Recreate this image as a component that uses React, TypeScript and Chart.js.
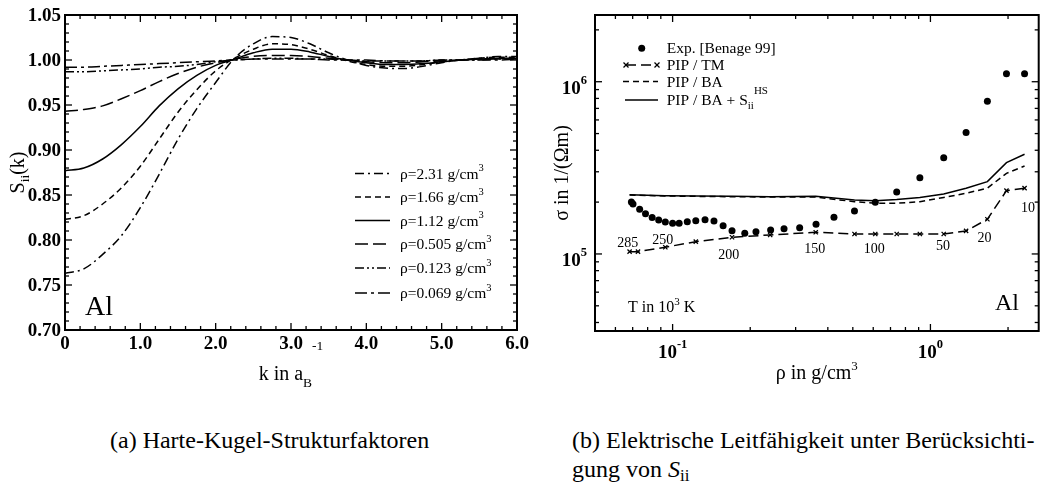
import React, { useEffect, useRef } from 'react';
import { Chart, registerables } from 'chart.js';

Chart.register(...registerables);

const SERIF = '"Liberation Serif", "Times New Roman", Times, serif';

// ---------------- Panel (a): hard-sphere structure factors ----------------
const kValues = [0, 0.25, 0.5, 0.75, 1.0, 1.25, 1.5, 1.75, 2.0, 2.25, 2.5, 2.75, 3.0, 3.25, 3.5, 3.75, 4.0, 4.25, 4.5, 4.75, 5.0, 5.25, 5.5, 5.75, 6.0];
const sRho231 = [0.763, 0.768, 0.784, 0.805, 0.836, 0.873, 0.912, 0.946, 0.975, 1.002, 1.018, 1.026, 1.025, 1.018, 1.008, 1.000, 0.994, 0.991, 0.9905, 0.993, 0.997, 1.000, 1.002, 1.004, 1.004];
const sRho166 = [0.823, 0.827, 0.840, 0.858, 0.882, 0.912, 0.942, 0.967, 0.988, 1.002, 1.012, 1.018, 1.017, 1.012, 1.005, 0.999, 0.995, 0.993, 0.993, 0.995, 0.998, 1.000, 1.002, 1.003, 1.003];
const sRho112 = [0.877, 0.880, 0.890, 0.906, 0.926, 0.949, 0.968, 0.983, 0.994, 1.001, 1.008, 1.012, 1.012, 1.009, 1.004, 1.000, 0.997, 0.995, 0.995, 0.996, 0.998, 1.000, 1.001, 1.002, 1.002];
const sRho0505 = [0.943, 0.945, 0.949, 0.957, 0.966, 0.976, 0.985, 0.992, 0.997, 1.001, 1.004, 1.005, 1.005, 1.004, 1.002, 1.000, 0.998, 0.997, 0.997, 0.998, 0.999, 1.000, 1.001, 1.001, 1.001];
const sRho0123 = [0.987, 0.987, 0.988, 0.989, 0.990, 0.992, 0.993, 0.995, 0.998, 1.000, 1.001, 1.002, 1.002, 1.001, 1.001, 1.000, 0.999, 0.999, 0.999, 0.999, 1.000, 1.000, 1.000, 1.001, 1.001];
const sRho0069 = [0.992, 0.992, 0.993, 0.994, 0.995, 0.996, 0.997, 0.998, 0.999, 1.000, 1.001, 1.001, 1.001, 1.001, 1.000, 1.000, 1.000, 0.999, 0.999, 0.999, 1.000, 1.000, 1.000, 1.000, 1.001];
const densityLabels = ['2.31', '1.66', '1.12', '0.505', '0.123', '0.069'];
const leftXTickValues = [0, 1, 2, 3, 4, 5, 6];
const leftXTickLabels = ['0', '1.0', '2.0', '3.0', '4.0', '5.0', '6.0'];
const leftYTickValues = [0.7, 0.75, 0.8, 0.85, 0.9, 0.95, 1.0, 1.05];
const leftYTickLabels = ['0.70', '0.75', '0.80', '0.85', '0.90', '0.95', '1.00', '1.05'];

// ---------------- Panel (b): electrical conductivity ----------------
const expRho = [0.0692, 0.0702, 0.0745, 0.0785, 0.0833, 0.0883, 0.0937, 0.100, 0.106, 0.114, 0.123, 0.1336, 0.1447, 0.157, 0.170, 0.1905, 0.2105, 0.240, 0.2705, 0.311, 0.360, 0.4225, 0.5075, 0.611, 0.740, 0.910, 1.126, 1.375, 1.663, 1.972, 2.318];
const expSigma = [2.0e5, 1.95e5, 1.82e5, 1.71e5, 1.63e5, 1.575e5, 1.535e5, 1.51e5, 1.51e5, 1.54e5, 1.56e5, 1.58e5, 1.553e5, 1.46e5, 1.365e5, 1.32e5, 1.347e5, 1.377e5, 1.40e5, 1.42e5, 1.487e5, 1.633e5, 1.777e5, 1.995e5, 2.29e5, 2.77e5, 3.62e5, 5.08e5, 7.69e5, 1.113e6, 1.113e6];
const theoryRho = [0.0681, 0.0734, 0.0937, 0.123, 0.170, 0.239, 0.359, 0.5075, 0.611, 0.740, 0.910, 1.126, 1.375, 1.663, 1.972, 2.318];
const sigmaPipTM = [1.031e5, 1.031e5, 1.094e5, 1.179e5, 1.25e5, 1.289e5, 1.336e5, 1.306e5, 1.306e5, 1.306e5, 1.306e5, 1.306e5, 1.36e5, 1.59e5, 2.33e5, 2.41e5];
const sigmaPipBA = [2.20e5, 2.19e5, 2.17e5, 2.16e5, 2.15e5, 2.14e5, 2.14e5, 2.01e5, 1.97e5, 1.97e5, 2.01e5, 2.13e5, 2.25e5, 2.41e5, 2.94e5, 3.24e5];
const sigmaPipBASii = [2.21e5, 2.20e5, 2.18e5, 2.17e5, 2.16e5, 2.15e5, 2.16e5, 2.06e5, 2.04e5, 2.07e5, 2.13e5, 2.23e5, 2.41e5, 2.63e5, 3.39e5, 3.79e5];
const tempLabels = ['285', '250', '200', '150', '100', '50', '20', '10'];
const tempLabelRho = [0.0670, 0.0915, 0.165, 0.356, 0.606, 1.119, 1.619, 2.39];
const tempLabelSigma = [1.174e5, 1.222e5, 0.996e5, 1.079e5, 1.079e5, 1.117e5, 1.25e5, 1.858e5];
const rightXTickValues = [0.1, 1];
const rightXTickExp = ['-1', '0'];
const rightYTickValues = [1e5, 1e6];
const rightYTickExp = ['5', '6'];

// ---------------- text helpers ----------------
type Part = { t: string; size: number; bold?: boolean; italic?: boolean; dy?: number };
const fontOf = (p: Part) => `${p.italic ? 'italic ' : ''}${p.bold ? 'bold ' : ''}${p.size}px ${SERIF}`;
function partsWidth(ctx: CanvasRenderingContext2D, parts: Part[]) {
  let w = 0;
  for (const p of parts) { ctx.font = fontOf(p); w += ctx.measureText(p.t).width; }
  return w;
}
function drawParts(ctx: CanvasRenderingContext2D, x: number, y: number, parts: Part[], align: 'left' | 'center' | 'right' = 'left') {
  ctx.save();
  const w = partsWidth(ctx, parts);
  const x0 = align === 'center' ? x - w / 2 : align === 'right' ? x - w : x;
  ctx.textAlign = 'left';
  ctx.textBaseline = 'alphabetic';
  ctx.fillStyle = '#000';
  let cx = x0;
  for (const p of parts) { ctx.font = fontOf(p); ctx.fillText(p.t, cx, y + (p.dy || 0)); cx += ctx.measureText(p.t).width; }
  ctx.restore();
}
function drawPartsRotated(ctx: CanvasRenderingContext2D, bx: number, cy: number, parts: Part[]) {
  ctx.save();
  ctx.translate(bx, cy);
  ctx.rotate(-Math.PI / 2);
  const w = partsWidth(ctx, parts);
  ctx.textAlign = 'left';
  ctx.textBaseline = 'alphabetic';
  ctx.fillStyle = '#000';
  let cx = -w / 2;
  for (const p of parts) { ctx.font = fontOf(p); ctx.fillText(p.t, cx, p.dy || 0); cx += ctx.measureText(p.t).width; }
  ctx.restore();
}
function seg(ctx: CanvasRenderingContext2D, x1: number, y1: number, x2: number, y2: number) {
  ctx.beginPath(); ctx.moveTo(x1, y1); ctx.lineTo(x2, y2); ctx.stroke();
}

const leftDashes = [[9, 4, 2, 4], [6, 4], [], [13, 5], [9, 3, 2, 3, 2, 3], [12, 4, 3, 4]];

const leftDecor = {
  id: 'leftDecor',
  afterDraw(chart: any) {
    const ctx: CanvasRenderingContext2D = chart.ctx;
    const a = chart.chartArea;
    const xs = chart.scales.x, ys = chart.scales.y;
    ctx.save();
    ctx.strokeStyle = '#000';
    ctx.fillStyle = '#000';
    ctx.lineWidth = 1.3;
    for (let i = 0; i <= 30; i++) {
      const px = xs.getPixelForValue(i * 0.2);
      const len = i % 5 === 0 ? 7 : 4;
      seg(ctx, px, a.bottom, px, a.bottom - len);
      seg(ctx, px, a.top, px, a.top + len);
    }
    for (let i = 0; i <= 35; i++) {
      const py = ys.getPixelForValue(0.7 + i * 0.01);
      const len = i % 5 === 0 ? 7 : 4;
      seg(ctx, a.left, py, a.left + len, py);
      seg(ctx, a.right, py, a.right - len, py);
    }
    ctx.lineWidth = 2;
    ctx.strokeRect(a.left, a.top, a.right - a.left, a.bottom - a.top);

    leftYTickValues.forEach((v, i) => {
      drawParts(ctx, a.left - 4, ys.getPixelForValue(v) + 6.4, [{ t: leftYTickLabels[i], size: 19, bold: true }], 'right');
    });
    leftXTickValues.forEach((v, i) => {
      drawParts(ctx, xs.getPixelForValue(v), 348.5, [{ t: leftXTickLabels[i], size: 19, bold: true }], 'center');
    });
    drawParts(ctx, (a.left + a.right) / 2, 380, [
      { t: 'k in a', size: 20 },
      { t: 'B', size: 13.5, dy: 7 },
      { t: '-1', size: 13.5, dy: -30 },
    ], 'center');
    drawPartsRotated(ctx, 24, (a.top + a.bottom) / 2, [
      { t: 'S', size: 20 },
      { t: 'ii', size: 13.5, dy: 5 },
      { t: '(k)', size: 20 },
    ]);
    drawParts(ctx, 85, 315, [{ t: 'Al', size: 28 }]);

    // legend
    const rows = [173.5, 197, 220.5, 244, 268, 293];
    densityLabels.forEach((lab, i) => {
      const y = rows[i];
      ctx.lineWidth = 1.5;
      ctx.setLineDash(leftDashes[i]);
      seg(ctx, 355, y, 390, y);
      ctx.setLineDash([]);
      drawParts(ctx, 400, y + 5, [
        { t: `ρ=${lab} g/cm`, size: 15.5 },
        { t: '3', size: 10.5, dy: -7.5 },
      ]);
    });
    ctx.restore();
  },
};

const rightDecor = {
  id: 'rightDecor',
  afterDraw(chart: any) {
    const ctx: CanvasRenderingContext2D = chart.ctx;
    const a = chart.chartArea;
    const xs = chart.scales.x, ys = chart.scales.y;
    ctx.save();
    ctx.strokeStyle = '#000';
    ctx.fillStyle = '#000';
    ctx.lineWidth = 1.3;
    for (let d = -2; d <= 0; d++) {
      for (let m = 1; m <= 9; m++) {
        const v = m * Math.pow(10, d);
        if (v < xs.min * 0.999 || v > xs.max * 1.001) continue;
        const px = xs.getPixelForValue(v);
        const len = m === 1 ? 7 : 4;
        seg(ctx, px, a.bottom, px, a.bottom - len);
        seg(ctx, px, a.top, px, a.top + len);
      }
    }
    for (let d = 4; d <= 6; d++) {
      for (let m = 1; m <= 9; m++) {
        const v = m * Math.pow(10, d);
        if (v < ys.min * 0.999 || v > ys.max * 1.001) continue;
        const py = ys.getPixelForValue(v);
        const len = m === 1 ? 7 : 4;
        seg(ctx, a.left, py, a.left + len, py);
        seg(ctx, a.right, py, a.right - len, py);
      }
    }
    ctx.lineWidth = 2;
    ctx.strokeRect(a.left, a.top, a.right - a.left, a.bottom - a.top);

    rightYTickValues.forEach((v, i) => {
      drawParts(ctx, a.left - 8, ys.getPixelForValue(v) + 12, [
        { t: '10', size: 19, bold: true },
        { t: rightYTickExp[i], size: 12.5, bold: true, dy: -9.5 },
      ], 'right');
    });
    rightXTickValues.forEach((v, i) => {
      drawParts(ctx, xs.getPixelForValue(v), 358, [
        { t: '10', size: 19, bold: true },
        { t: rightXTickExp[i], size: 12.5, bold: true, dy: -10.5 },
      ], 'center');
    });
    drawParts(ctx, (a.left + a.right) / 2, 379, [
      { t: 'ρ in g/cm', size: 20 },
      { t: '3', size: 13, dy: -9.5 },
    ], 'center');
    drawPartsRotated(ctx, 568, (a.top + a.bottom) / 2, [{ t: 'σ in 1/(Ωm)', size: 20 }]);
    drawParts(ctx, 995, 310, [{ t: 'Al', size: 24 }]);
    drawParts(ctx, 628, 312, [
      { t: 'T in 10', size: 16 },
      { t: '3', size: 11, dy: -7.5 },
      { t: ' K', size: 16 },
    ]);
    tempLabels.forEach((t, i) => {
      drawParts(ctx, xs.getPixelForValue(tempLabelRho[i]), ys.getPixelForValue(tempLabelSigma[i]) + 4.8, [{ t, size: 14 }], 'center');
    });

    // legend
    ctx.beginPath();
    ctx.arc(641.7, 48.3, 3.5, 0, Math.PI * 2);
    ctx.fill();
    drawParts(ctx, 666.7, 53, [{ t: 'Exp. [Benage 99]', size: 15.5 }]);
    ctx.lineWidth = 1.5;
    ctx.setLineDash([10, 5]);
    seg(ctx, 626, 65, 657, 65);
    ctx.setLineDash([]);
    ctx.lineWidth = 1.3;
    for (const cx of [626, 657]) {
      seg(ctx, cx - 2.5, 62.5, cx + 2.5, 67.5);
      seg(ctx, cx - 2.5, 67.5, cx + 2.5, 62.5);
    }
    drawParts(ctx, 666.7, 70, [{ t: 'PIP / TM', size: 15.5 }]);
    ctx.lineWidth = 1.5;
    ctx.setLineDash([6, 4]);
    seg(ctx, 623, 81.5, 658, 81.5);
    ctx.setLineDash([]);
    drawParts(ctx, 666.7, 86.5, [{ t: 'PIP / BA', size: 15.5 }]);
    seg(ctx, 625, 100, 658, 100);
    drawParts(ctx, 666.7, 105, [
      { t: 'PIP / BA + S', size: 15.5 },
      { t: 'ii', size: 11, dy: 4 },
      { t: 'HS', size: 11, dy: -11 },
    ]);
    ctx.restore();
  },
};

export default function App() {
  const leftRef = useRef<HTMLCanvasElement | null>(null);
  const rightRef = useRef<HTMLCanvasElement | null>(null);

  useEffect(() => {
    if (!leftRef.current || !rightRef.current) return;
    const leftSeries = [sRho231, sRho166, sRho112, sRho0505, sRho0123, sRho0069];
    const left = new Chart(leftRef.current, {
      type: 'line',
      data: {
        datasets: leftSeries.map((s, i) => ({
          label: `ρ=${densityLabels[i]} g/cm³`,
          data: kValues.map((k, j) => ({ x: k, y: s[j] })),
          borderColor: '#000',
          borderWidth: 1.5,
          borderDash: leftDashes[i],
          pointRadius: 0,
          fill: false,
          cubicInterpolationMode: 'monotone' as const,
        })),
      },
      options: {
        responsive: false,
        animation: false,
        devicePixelRatio: 1,
        events: [],
        layout: { padding: { left: 65, right: 527, top: 15, bottom: 70 } },
        plugins: { legend: { display: false }, tooltip: { enabled: false } },
        scales: {
          x: { type: 'linear', display: false, min: 0, max: 6 },
          y: { type: 'linear', display: false, min: 0.7, max: 1.05 },
        },
      },
      plugins: [leftDecor],
    });

    const right = new Chart(rightRef.current, {
      type: 'line',
      data: {
        datasets: [
          {
            label: 'Exp. [Benage 99]',
            data: expRho.map((r, j) => ({ x: r, y: expSigma[j] })),
            showLine: false,
            pointRadius: 3.5,
            pointBackgroundColor: '#000',
            pointBorderColor: '#000',
            pointBorderWidth: 0,
          },
          {
            label: 'PIP / TM',
            data: theoryRho.map((r, j) => ({ x: r, y: sigmaPipTM[j] })),
            borderColor: '#000',
            borderWidth: 1.5,
            borderDash: [10, 5],
            pointStyle: 'crossRot',
            pointRadius: 3,
            pointBorderColor: '#000',
            pointBorderWidth: 1.3,
            tension: 0,
          },
          {
            label: 'PIP / BA',
            data: theoryRho.map((r, j) => ({ x: r, y: sigmaPipBA[j] })),
            borderColor: '#000',
            borderWidth: 1.5,
            borderDash: [6, 4],
            pointRadius: 0,
            tension: 0,
          },
          {
            label: 'PIP / BA + S_ii^HS',
            data: theoryRho.map((r, j) => ({ x: r, y: sigmaPipBASii[j] })),
            borderColor: '#000',
            borderWidth: 1.5,
            pointRadius: 0,
            tension: 0,
          },
        ],
      },
      options: {
        responsive: false,
        animation: false,
        devicePixelRatio: 1,
        events: [],
        layout: { padding: { left: 595, right: 2, top: 15, bottom: 69 } },
        plugins: { legend: { display: false }, tooltip: { enabled: false } },
        scales: {
          x: { type: 'logarithmic', display: false, min: 0.05, max: 2.63 },
          y: { type: 'logarithmic', display: false, min: 3.57e4, max: 2.44e6 },
        },
      },
      plugins: [rightDecor],
    });

    return () => {
      left.destroy();
      right.destroy();
    };
  }, []);

  const capStyle: React.CSSProperties = {
    position: 'absolute',
    top: 426,
    fontFamily: SERIF,
    fontSize: 24,
    lineHeight: '29px',
    whiteSpace: 'nowrap',
    color: '#000',
  };

  return (
    <div style={{ position: 'fixed', left: 0, top: 0, width: 1044, height: 485, background: '#fff', overflow: 'hidden' }}>
      <canvas ref={leftRef} width={1044} height={400} style={{ position: 'absolute', left: 0, top: 0, width: 1044, height: 400 }} />
      <canvas ref={rightRef} width={1044} height={400} style={{ position: 'absolute', left: 0, top: 0, width: 1044, height: 400 }} />
      <div style={{ ...capStyle, left: 110 }}>(a) Harte-Kugel-Strukturfaktoren</div>
      <div style={{ ...capStyle, left: 572 }}>
        (b) Elektrische Leitfähigkeit unter Berücksichti-
        <br />
        gung von <i>S</i>
        <span style={{ fontSize: 17, position: 'relative', top: 4 }}>ii</span>
      </div>
    </div>
  );
}
